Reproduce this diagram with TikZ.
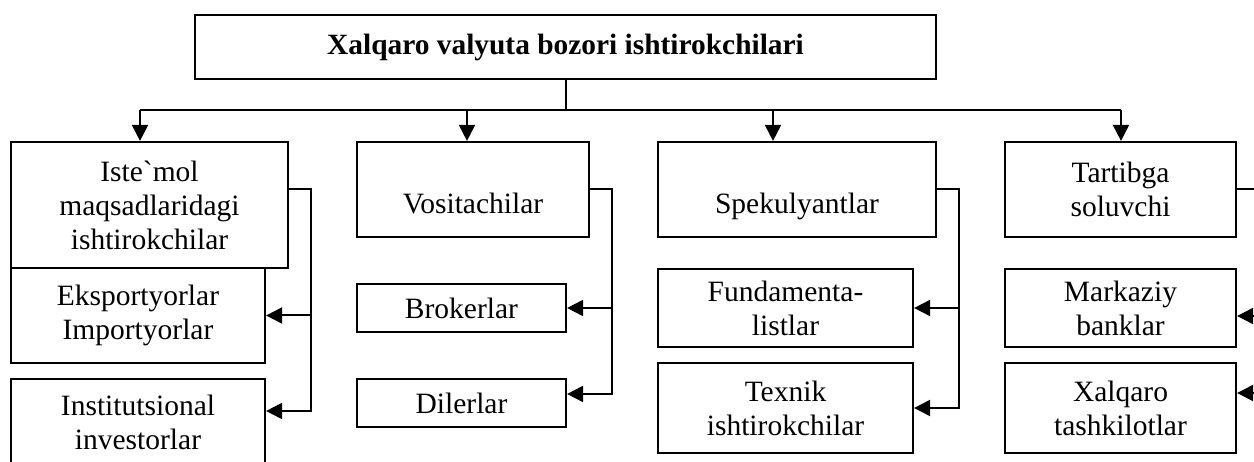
\documentclass[tikz,border=0pt]{standalone}
\usepackage{fontspec}
\setmainfont{Liberation Serif}
\usetikzlibrary{arrows.meta}

\tikzset{
  box/.style={draw, line width=2.2pt, inner sep=2pt, align=center,
    font=\fontsize{29.5}{34}\selectfont},
  lowtext/.style={text height=49pt, text depth=0pt},
  arr/.style={line width=2pt, -{Triangle[length=16pt,width=16pt]}},
  link/.style={line width=2pt}
}

\begin{document}
\begin{tikzpicture}[x=1pt, y=-1pt]
\useasboundingbox (0,0) rectangle (1254,462);

% Title
\node[box, minimum width=741, minimum height=64,
  font=\fontsize{29.4}{34}\selectfont\bfseries] (title) at (565.5,47)
  {Xalqaro valyuta bozori ishtirokchilari};

% First column
\node[box, minimum width=254, minimum height=95] (eks) at (138,315.5) {Eksportyorlar\\Importyorlar};
\node[box, minimum width=277, minimum height=126] (ist) at (149.5,205) {Iste\textasciigrave mol\\maqsadlaridagi\\ishtirokchilar};
\node[box, minimum width=254, minimum height=87] (inst) at (138,422.5) {Institutsional\\investorlar};

% Second column
\node[box, lowtext, minimum width=232, minimum height=95] (vos) at (473,189.5) {Vositachilar};
\node[box, minimum width=209, minimum height=48] (bro) at (461.5,308) {Brokerlar};
\node[box, minimum width=209, minimum height=48] (dil) at (461.5,403) {Dilerlar};

% Third column
\node[box, lowtext, minimum width=278, minimum height=95] (spe) at (797,189.5) {Spekulyantlar};
\node[box, minimum width=255, minimum height=78] (fun) at (785.5,308) {Fundamenta-\\listlar};
\node[box, minimum width=255, minimum height=90] (tex) at (785.5,408) {Texnik\\ishtirokchilar};

% Fourth column
\node[box, minimum width=231, minimum height=95] (tar) at (1120.5,189.5) {Tartibga\\soluvchi};
\node[box, minimum width=231, minimum height=78] (mar) at (1120.5,308) {Markaziy\\banklar};
\node[box, minimum width=231, minimum height=90] (xal) at (1120.5,408) {Xalqaro\\tashkilotlar};

% Bus under the title
\coordinate (bus) at (566,110);
\coordinate (a1) at (140,110);
\coordinate (a2) at (467,110);
\coordinate (a3) at (773,110);
\coordinate (a4) at (1121,110);
\draw[line width=1.3pt] (bus |- title.south) -- (bus);
\draw[link] (a1) -- (a4);
\draw[arr] (a1) -- (a1 |- ist.north);
\draw[arr] (a2) -- (a2 |- vos.north);
\draw[arr] (a3) -- (a3 |- spe.north);
\draw[arr] (a4) -- (a4 |- tar.north);

% Side brackets
\coordinate (k1) at (311,411);
\draw[arr] (ist.east |- vos.east) -| (k1) -- (k1 -| inst.east);
\draw[arr] (k1 |- eks.east) -- (eks.east);

\coordinate (k2) at (612,394);
\draw[arr] (vos.east) -| (k2) -- (k2 -| dil.east);
\draw[arr] (k2 |- bro.east) -- (bro.east);

\coordinate (k3) at (959,408);
\draw[arr] (spe.east) -| (k3) -- (tex.east);
\draw[arr] (k3 |- fun.east) -- (fun.east);

\coordinate (k4) at (1262,393);
\coordinate (m4) at (1262,316);
\draw[arr] (tar.east) -| (k4) -- (k4 -| xal.east);
\draw[arr] (m4) -- (m4 -| mar.east);
\end{tikzpicture}
\end{document}
